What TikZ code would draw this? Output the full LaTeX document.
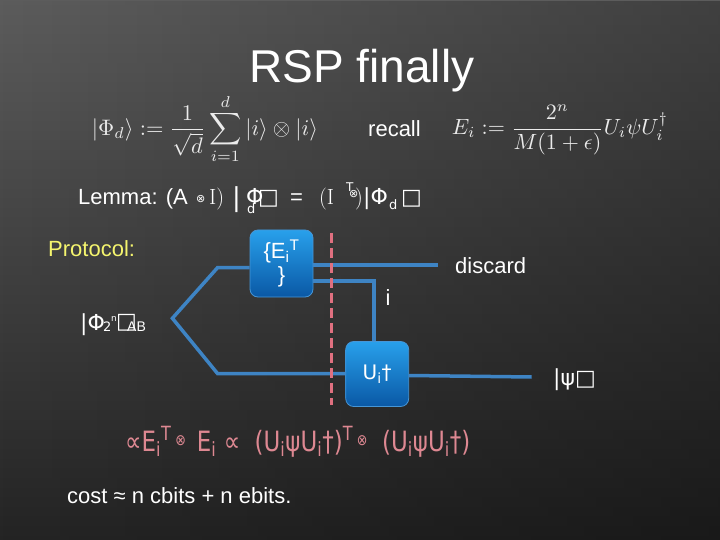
\documentclass[tikz,border=0pt]{standalone}
\usepackage[no-math]{fontspec}
\usepackage{graphicx}
\newfontfamily\arial{Liberation Sans}
\newfontfamily\dv{DejaVu Sans}
\usetikzlibrary{calc,fadings}
\definecolor{bgtop}{RGB}{92,92,92}
\definecolor{bgbot}{RGB}{36,36,36}
\definecolor{wire}{RGB}{62,132,196}
\definecolor{boxtop}{RGB}{40,160,235}
\definecolor{boxbot}{RGB}{10,88,165}
\definecolor{boxedge}{RGB}{70,150,215}
\definecolor{dash}{RGB}{224,112,128}
\definecolor{pinktxt}{RGB}{222,136,146}
\definecolor{protoyellow}{RGB}{245,245,110}
\definecolor{mathwhite}{RGB}{235,235,235}
\tikzset{
  txt/.style={text=white,inner sep=0pt,font=\arial\fontsize{22}{26}\selectfont},
  dvtxt/.style={text=white,inner sep=0pt,font=\dv\fontsize{22}{26}\selectfont},
  bluebox/.style={draw=boxedge,line width=0.8pt,rounded corners=8pt,
    top color=boxtop,bottom color=boxbot,inner sep=0pt,text=white},
  wireline/.style={draw=wire,line width=3.5pt},
  redline/.style={draw=dash,line width=3pt,dash pattern=on 10pt off 5pt},
}
\begin{document}
\begin{tikzpicture}[x=1pt,y=-1pt]
\useasboundingbox (0,0) rectangle (720,540);
\shade[top color=bgtop,bottom color=bgbot] (0,0) rectangle (720,540);
\fill[black,path fading=west,opacity=0.3] (0,0) rectangle (720,540);

% title
\node[anchor=base,text=white,inner sep=0pt,font=\arial\fontsize{46}{50}\selectfont] (title) at (362,83) {RSP finally};

% formulas
\node[text=mathwhite,inner sep=0pt] (phid) at (205,129)
  {\resizebox{226pt}{!}{$\displaystyle |\Phi_d\rangle := \frac{1}{\sqrt{d}}\sum_{i=1}^{d} |i\rangle\otimes|i\rangle$}};
\node[txt,anchor=base west] (recall) at (368,137) {recall};
\node[text=mathwhite,inner sep=0pt] (eidef) at (560,130)
  {\resizebox{216pt}{!}{$\displaystyle E_i := \frac{2^n}{M(1+\epsilon)}U_i\psi U_i^{\dagger}$}};

% lemma line
\node[txt,anchor=base west] (lem1) at (78,205) {Lemma: (A};
\node[dvtxt,anchor=base west,font=\dv\fontsize{11}{12}\selectfont] (lem2) at (196,203) {⊗};
\node[txt,anchor=base west,font=\rmfamily\fontsize{22}{26}\selectfont] (lem3) at (209,205) {I)};
\node[dvtxt,anchor=base west,font=\dv\fontsize{26}{28}\selectfont] (lem4) at (232,207) {|};
\node[dvtxt,anchor=base west] (lem5) at (246,205) {Φ};
\node[dvtxt,anchor=base west,font=\dv\fontsize{13}{14}\selectfont] (lem6) at (247,214) {d};
\node[dvtxt,anchor=base west] (lem7) at (258,205) {□};
\node[txt,anchor=base west] (lem8) at (290,205) {=};
\node[txt,anchor=base west,font=\rmfamily\fontsize{22}{26}\selectfont] (lem9) at (319,205) {(I};
\node[dvtxt,anchor=base west,font=\dv\fontsize{12}{13}\selectfont] (lem10) at (346,192) {T};
\node[dvtxt,anchor=base west,font=\dv\fontsize{11}{12}\selectfont] (lem11) at (349,198) {⊗};
\node[txt,anchor=base west,font=\rmfamily\fontsize{22}{26}\selectfont] (lem12) at (355,205) {)};
\node[dvtxt,anchor=base west] (lem13) at (363,205) {|Φ};
\node[dvtxt,anchor=base west,font=\dv\fontsize{13}{14}\selectfont] (lem14) at (389,210) {d};
\node[dvtxt,anchor=base west] (lem15) at (401,205) {□};

% protocol
\node[txt,text=protoyellow,anchor=base west] (proto) at (48,256) {Protocol:};

% Phi 2n AB
\node[dvtxt,anchor=base west] (p1) at (80,330) {|Φ};
\node[dvtxt,anchor=base west,font=\dv\fontsize{13}{14}\selectfont] (p2) at (103,331) {2};
\node[dvtxt,anchor=base west,font=\dv\fontsize{9}{10}\selectfont] (p3) at (111,321) {n};
\node[dvtxt,anchor=base west] (p4) at (116,328) {□};
\node[dvtxt,anchor=base west,font=\arial\fontsize{14}{15}\selectfont] (p5) at (127,331) {AB};

% boxes
\node[bluebox,minimum width=63pt,minimum height=67pt] (E) at (281.5,263.5)
  {\begin{tabular}{@{}c@{}}{\arial\fontsize{22}{26}\selectfont\{E\textsubscript{i}\textsuperscript{T}}\\[5pt]{\arial\fontsize{22}{26}\selectfont\}}\end{tabular}};
\node[bluebox,minimum width=63pt,minimum height=65pt] (U) at (377.2,374)
  {{\dv\fontsize{20}{24}\selectfont U\textsubscript{i}†}};

% wires
\coordinate (v) at (172.4,318.3);
\coordinate (ub) at (217.5,267.7);
\coordinate (lb) at (217.5,373.5);
\coordinate (dend) at (437.6,265);
\coordinate (ibend) at (374,281);
\coordinate (pend) at (531.7,377);
\draw[wireline,line join=miter] (E.west |- ub) -- (ub) -- (v) -- (lb) -- (U.west |- lb);
\draw[wireline] (E.east |- dend) -- (dend);
\draw[wireline,line join=miter] (E.east |- ibend) -- (ibend) -- (ibend |- U.north);
\draw[wireline] (U.east |- 0,375.5) -- (pend);

% dashed
\coordinate (dtop) at (331,233);
\coordinate (dbot) at (331,405);
\draw[redline] (dtop) -- (dbot);

% labels
\node[txt,anchor=base west] (discard) at (455,273) {discard};
\node[txt,anchor=base] (ilab) at (388,305) {i};
\node[dvtxt,anchor=base west] (psi) at (553,385) {|ψ□};

% pink formula
\node[text=pinktxt,inner sep=0pt,anchor=west] (pinkf) at (125,442)
  {\scalebox{1}[1.22]{\resizebox{345pt}{!}{\dv\fontsize{20}{24}\selectfont ∝E\textsubscript{i}\textsuperscript{T}\,{\fontsize{11}{12}\selectfont\raisebox{4pt}{⊗}}\, E\textsubscript{i} ∝ \ (U\textsubscript{i}ψU\textsubscript{i}†)\textsuperscript{T}\,{\fontsize{11}{12}\selectfont\raisebox{4pt}{⊗}}\ \ (U\textsubscript{i}ψU\textsubscript{i}†)}}};

% cost
\node[txt,anchor=base west] (cost) at (67,503) {cost ≈ n cbits + n ebits.};
\end{tikzpicture}
\end{document}
